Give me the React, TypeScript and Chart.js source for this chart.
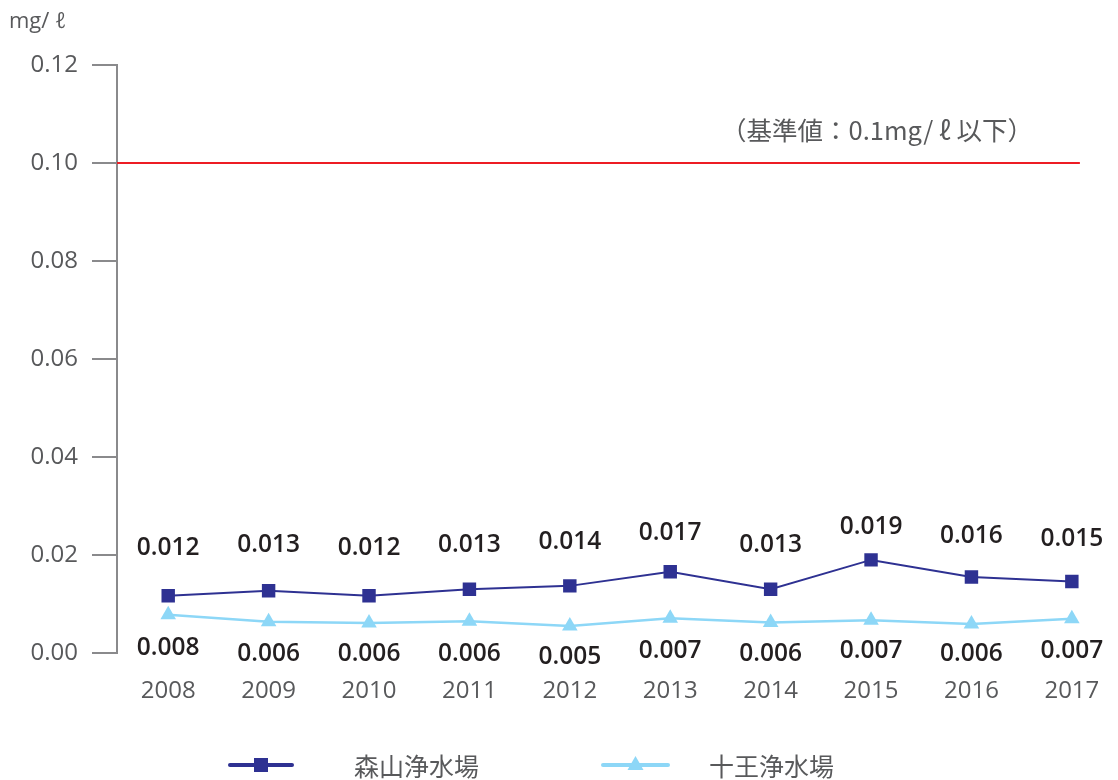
import React, { useEffect, useRef } from "react";
import { Chart, registerables } from "chart.js";

Chart.register(...registerables);

const years = ["2008", "2009", "2010", "2011", "2012", "2013", "2014", "2015", "2016", "2017"];
const moriyama = [0.0117, 0.0127, 0.0117, 0.013, 0.0137, 0.0166, 0.013, 0.019, 0.0155, 0.0146];
const juo = [0.0078, 0.0064, 0.0061, 0.0065, 0.0055, 0.0071, 0.0062, 0.0067, 0.0059, 0.007];
const moriyamaLabels = ["0.012", "0.013", "0.012", "0.013", "0.014", "0.017", "0.013", "0.019", "0.016", "0.015"];
const juoLabels = ["0.008", "0.006", "0.006", "0.006", "0.005", "0.007", "0.006", "0.007", "0.006", "0.007"];
const seriesNames = ["森山浄水場", "十王浄水場"];
const yMin = 0;
const yMax = 0.12;
const yStep = 0.02;
const standardValue = 0.1;
const standardText = "（基準値：0.1mg/ ℓ 以下）";
const unitText = "mg/ ℓ";

const NAVY = "#2e3192";
const LIGHT = "#8dd7f7";
const RED = "#ed1c24";
const AXIS = "#8a8a8c";
const TEXT = "#58595b";
const LABEL = "#231f20";
const LATIN = "'Open Sans', 'Noto Sans', sans-serif";
const CJK = "'Noto Sans CJK JP', 'Noto Sans', sans-serif";

const X_MIN = -0.51;
const X_MAX = 9.365;
const STANDARD_END = 9.08;

const overlayPlugin = {
  id: "overlay",
  afterDatasetsDraw(chart: any) {
    const ctx = chart.ctx;
    const xs = chart.scales.x;
    const ys = chart.scales.y;
    ctx.save();
    // data labels
    ctx.font = `600 24.5px ${LATIN}`;
    ctx.fillStyle = LABEL;
    ctx.textAlign = "center";
    ctx.textBaseline = "middle";
    moriyama.forEach((v, i) => {
      const x = xs.getPixelForValue(i);
      const y = ys.getPixelForValue(parseFloat(moriyamaLabels[i]) * 0.6) - 70;
      ctx.fillText(moriyamaLabels[i], x, y);
    });
    juo.forEach((v, i) => {
      const x = xs.getPixelForValue(i);
      const y = ys.getPixelForValue(parseFloat(juoLabels[i]) * 0.6) + 19;
      ctx.fillText(juoLabels[i], x, y);
    });
    // unit title
    ctx.font = `22px ${LATIN}`;
    ctx.fillStyle = TEXT;
    ctx.textAlign = "left";
    ctx.fillText(unitText, 9, 22);
    // standard note
    ctx.font = `25.5px ${CJK}`;
    ctx.textAlign = "right";
    ctx.fillText(standardText, xs.getPixelForValue(STANDARD_END) - 47, ys.getPixelForValue(standardValue) - 33);
    // legend
    const ly = 765;
    const items = [
      { color: NAVY, x1: 230, x2: 292, text: seriesNames[0], tx: 354, marker: "rect" },
      { color: LIGHT, x1: 603, x2: 668, text: seriesNames[1], tx: 709, marker: "triangle" },
    ];
    items.forEach((it) => {
      ctx.strokeStyle = it.color;
      ctx.lineWidth = 4;
      ctx.lineCap = "round";
      ctx.beginPath();
      ctx.moveTo(it.x1, ly);
      ctx.lineTo(it.x2, ly);
      ctx.stroke();
      ctx.fillStyle = it.color;
      const cx = (it.x1 + it.x2) / 2;
      if (it.marker === "rect") {
        ctx.fillRect(cx - 7, ly - 7, 14, 14);
      } else {
        ctx.beginPath();
        ctx.moveTo(cx, ly - 9);
        ctx.lineTo(cx + 8, ly + 5);
        ctx.lineTo(cx - 8, ly + 5);
        ctx.closePath();
        ctx.fill();
      }
      ctx.font = `25px ${CJK}`;
      ctx.fillStyle = TEXT;
      ctx.textAlign = "left";
      ctx.textBaseline = "middle";
      ctx.fillText(it.text, it.tx, ly + 1);
    });
    ctx.restore();
  },
};

export default function App() {
  const ref = useRef<HTMLCanvasElement | null>(null);
  useEffect(() => {
    if (!ref.current) return;
    const chart = new Chart(ref.current, {
      type: "line",
      data: {
        datasets: [
          {
            label: "standard",
            data: [
              { x: X_MIN, y: standardValue },
              { x: STANDARD_END, y: standardValue },
            ],
            borderColor: RED,
            borderWidth: 2,
            pointRadius: 0,
            order: 3,
          },
          {
            label: seriesNames[1],
            data: juo.map((v, i) => ({ x: i, y: v })),
            borderColor: LIGHT,
            backgroundColor: LIGHT,
            borderWidth: 2.5,
            pointStyle: "triangle",
            pointRadius: 9,
            pointBorderWidth: 0,
            order: 2,
          },
          {
            label: seriesNames[0],
            data: moriyama.map((v, i) => ({ x: i, y: v })),
            borderColor: NAVY,
            backgroundColor: NAVY,
            borderWidth: 2,
            pointStyle: "rect",
            pointRadius: 9.5,
            pointBorderWidth: 0,
            order: 1,
          },
        ],
      },
      options: {
        animation: false,
        responsive: false,
        devicePixelRatio: 1,
        layout: { padding: { top: 65, left: 0, right: 0, bottom: 0 } },
        plugins: { legend: { display: false }, tooltip: { enabled: false }, title: { display: false } },
        scales: {
          x: {
            type: "linear",
            min: X_MIN,
            max: X_MAX,
            afterBuildTicks: (scale: any) => {
              scale.ticks = years.map((_, i) => ({ value: i }));
            },
            afterFit: (scale: any) => {
              scale.height = 127;
            },
            ticks: {
              callback: (v: any) => years[Math.round(v)] ?? "",
              font: { family: LATIN, size: 24 },
              color: TEXT,
              padding: 16,
              maxRotation: 0,
              autoSkip: false,
            },
            grid: { display: false },
            border: { display: false },
          },
          y: {
            min: yMin,
            max: yMax,
            afterFit: (scale: any) => {
              scale.width = 117;
            },
            ticks: {
              stepSize: yStep,
              callback: (v: any) => Number(v).toFixed(2),
              font: { family: LATIN, size: 24 },
              color: TEXT,
              padding: 14,
            },
            grid: {
              drawOnChartArea: false,
              drawTicks: true,
              tickLength: 25,
              color: AXIS,
              lineWidth: 2,
            },
            border: { display: true, color: AXIS, width: 2 },
          },
        },
      },
      plugins: [overlayPlugin],
    } as any);
    return () => chart.destroy();
  }, []);
  return (
    <canvas
      ref={ref}
      width={1118}
      height={780}
      style={{ position: "fixed", left: 0, top: 0, width: 1118, height: 780, display: "block" }}
    />
  );
}
